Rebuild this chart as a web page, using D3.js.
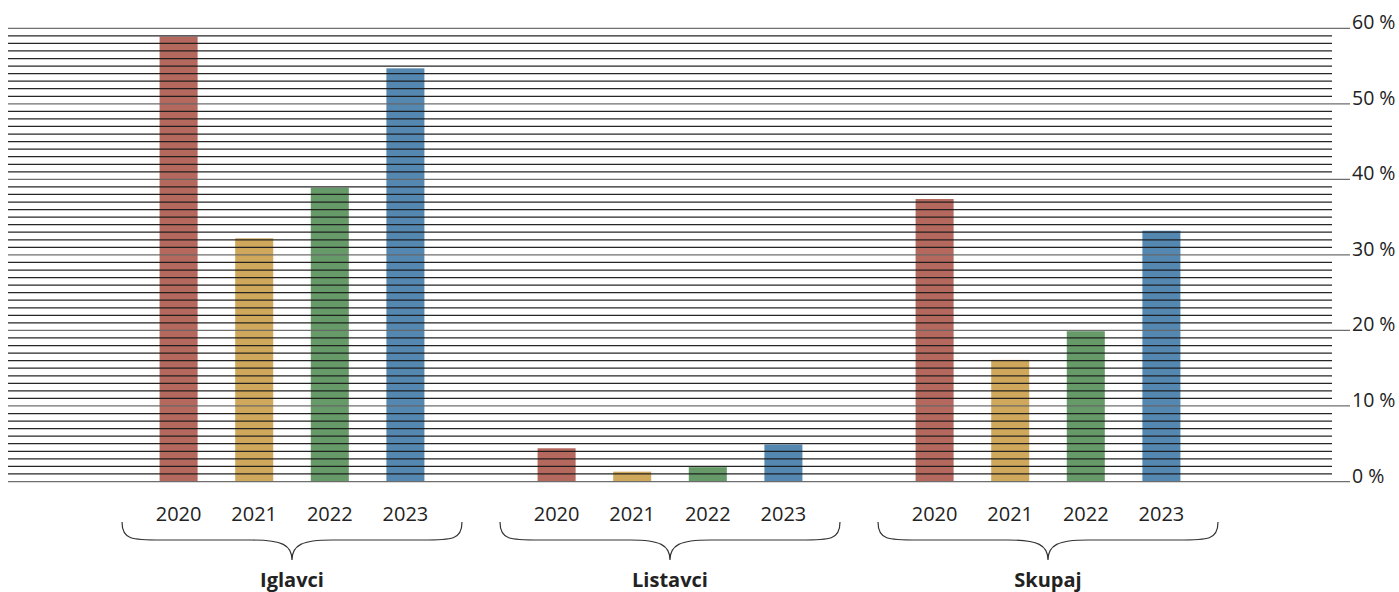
<!DOCTYPE html>
<html><head><meta charset="utf-8">
<script src="https://cdn.jsdelivr.net/npm/d3@7"></script>
<style>body{margin:0;background:#fff}svg{display:block}text{font-family:"Open Sans","Noto Sans",sans-serif}</style>
</head><body>
<svg id="c" width="1399" height="592"></svg>
<script>
const groups = ["Iglavci", "Listavci", "Skupaj"];
const years = ["2020", "2021", "2022", "2023"];
const values = {
  "Iglavci":  [58.9, 32.2, 38.9, 54.7],
  "Listavci": [4.4, 1.3, 1.9, 4.9],
  "Skupaj":   [37.4, 16.1, 19.9, 33.2]
};
const colors = ["#b5695e", "#d0a85c", "#669b69", "#5588b0"];
const yTicks = [0, 10, 20, 30, 40, 50, 60];

const svg = d3.select("#c");
const y = d3.scaleLinear().domain([0, 60]).range([481.5, 28.3]);
const gx = d3.scaleBand().domain(groups).range([103, 1237]).paddingInner(0).paddingOuter(0);
const bx2 = d3.scaleBand().domain(years).range([gx.bandwidth()/2 - 2*75.6, gx.bandwidth()/2 + 2*75.6]).paddingInner(0.497).paddingOuter(0.2485);

// bars
groups.forEach(g => {
  svg.append("g").selectAll("rect").data(years).join("rect")
    .attr("x", d => gx(g) + bx2(d))
    .attr("width", bx2.bandwidth())
    .attr("y", (d, i) => y(values[g][i]))
    .attr("height", (d, i) => y(0) - y(values[g][i]))
    .attr("fill", (d, i) => colors[i]);
});

// gridlines every 1%
const minor = d3.range(0, 61, 1);
svg.append("g").selectAll("line").data(minor).join("line")
  .attr("x1", 8)
  .attr("x2", d => d % 10 === 0 ? 1350 : 1332)
  .attr("y1", d => y(d)).attr("y2", d => y(d))
  .attr("stroke", d => d % 10 === 0 ? "#666" : "#1a1a1a")
  .attr("stroke-opacity", 0.95)
  .attr("stroke-width", 1.25);

// y labels
svg.append("g").selectAll("text").data(yTicks).join("text")
  .attr("x", 1352).attr("y", d => y(d) + 1)
  .attr("font-size", 19.5).attr("fill", "#222")
  .text(d => d + " %");

// year labels
groups.forEach(g => {
  svg.append("g").selectAll("text").data(years).join("text")
    .attr("x", d => gx(g) + bx2(d) + bx2.bandwidth()/2)
    .attr("y", 521)
    .attr("text-anchor", "middle")
    .attr("font-size", 20).attr("fill", "#222")
    .text(d => d);
  // brace
  const cx = gx(g) + gx.bandwidth()/2;
  const x0 = cx - 170, x1 = cx + 170, yt = 522, ym = 540, ytip = 560;
  const p = `M${x0},${yt} C${x0},${ym} ${x0+10},${ym} ${x0+40},${ym} L${cx-40},${ym} C${cx-10},${ym} ${cx},${ym+5} ${cx},${ytip} C${cx},${ym+5} ${cx+10},${ym} ${cx+40},${ym} L${x1-40},${ym} C${x1-10},${ym} ${x1},${ym} ${x1},${yt}`;
  svg.append("path").attr("d", p).attr("fill", "none").attr("stroke", "#333").attr("stroke-width", 1.2);
  svg.append("text").attr("x", cx).attr("y", 587).attr("text-anchor", "middle")
    .attr("font-size", 20).attr("font-weight", "bold").attr("fill", "#222").text(g);
});
</script>
</body></html>
